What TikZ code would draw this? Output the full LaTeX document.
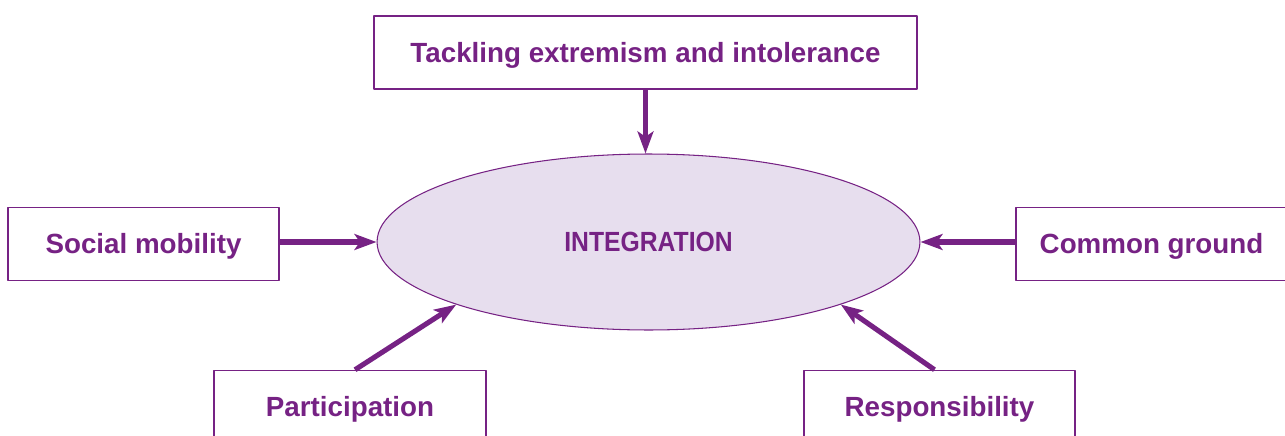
\documentclass[tikz,border=0pt]{standalone}
\usepackage{fontspec}
\setmainfont{Liberation Sans}
\newfontfamily\narrowfont[FakeStretch=0.89]{Liberation Sans}
\usetikzlibrary{arrows.meta,shapes.geometric}
\definecolor{plum}{RGB}{118,34,132}
\definecolor{lilac}{RGB}{231,222,238}
\tikzset{
  box/.style={draw=plum, line width=0.85pt, text=plum, font=\fontsize{15.8}{18}\selectfont\bfseries,
    minimum height=1.46cm, inner sep=0pt, text height=11.3pt, text depth=0pt},
  link/.style={draw=plum, line width=2.9pt, -{Stealth[length=12.5pt,width=9pt,inset=3pt]}}
}
\begin{document}
\begin{tikzpicture}[x=0.02cm,y=-0.02cm, line join=round]
\useasboundingbox (0,0) rectangle (1285,436);
\node[ellipse, draw=plum, fill=lilac, line width=0.6pt, minimum width=10.86cm, minimum height=3.52cm,
  text=plum, text height=11.3pt, text depth=0pt,
  font=\fontsize{15.8}{18}\selectfont\bfseries\narrowfont] (integ) at (648.5,242) {INTEGRATION};
\node[box, minimum width=10.86cm] (tackle) at (645.5,52.5) {Tackling extremism and intolerance};
\node[box, minimum width=5.42cm] (social) at (143.5,244) {Social mobility};
\node[box, minimum width=5.42cm] (common) at (1151.5,244) {Common ground};
\node[box, minimum width=5.44cm] (part) at (350,407) {Participation};
\node[box, minimum width=5.42cm] (resp) at (939.5,407) {Responsibility};
% arrows into the ellipse
\draw[link] (tackle.south) -- (tackle.south |- integ.north);
\draw[link] (social.east |- integ.west) -- (integ.west);
\draw[link] (common.west |- integ.east) -- (integ.east);
\draw[link] ([xshift=0.1cm]part.north) -- (integ.south west);
\draw[link] ([xshift=-0.1cm]resp.north) -- (integ.south east);
\end{tikzpicture}
\end{document}
